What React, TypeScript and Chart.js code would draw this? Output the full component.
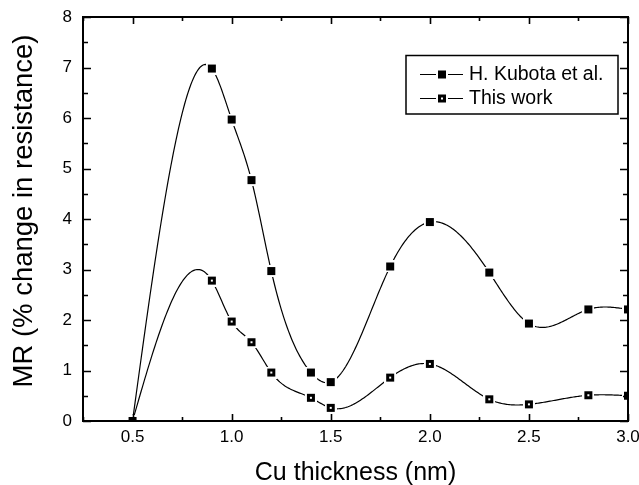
import React, { useEffect, useRef } from "react";
import { Chart, registerables } from "chart.js";

Chart.register(...registerables);

// ---------- data ----------
const thickness = [0.5, 0.9, 1.0, 1.1, 1.2, 1.4, 1.5, 1.8, 2.0, 2.3, 2.5, 2.8, 3.0];
const kubotaMR = [0, 6.98, 5.97, 4.77, 2.97, 0.96, 0.77, 3.06, 3.94, 2.94, 1.93, 2.21, 2.21];
const thisWorkMR = [0, 2.78, 1.97, 1.56, 0.96, 0.46, 0.26, 0.86, 1.13, 0.43, 0.33, 0.51, 0.5];
const seriesLabels = ["H. Kubota et al.", "This work"];
const xTickValues = [0.5, 1.0, 1.5, 2.0, 2.5, 3.0];
const xMinorTicks = [0.25, 0.75, 1.25, 1.75, 2.25, 2.75];
const yTickValues = [0, 1, 2, 3, 4, 5, 6, 7, 8];
const yMinorTicks = [0.5, 1.5, 2.5, 3.5, 4.5, 5.5, 6.5, 7.5];
const xTitle = "Cu thickness (nm)";
const yTitle = "MR (% change in resistance)";

const FONT = "'Liberation Sans', Arial, Helvetica, sans-serif";

// natural cubic spline
function naturalSpline(xs: number[], ys: number[]) {
  const n = xs.length;
  const h: number[] = [];
  for (let i = 0; i < n - 1; i++) h[i] = xs[i + 1] - xs[i];
  const l = new Array(n).fill(0);
  const mu = new Array(n).fill(0);
  const z = new Array(n).fill(0);
  l[0] = 1;
  for (let i = 1; i < n - 1; i++) {
    const alpha = (3 / h[i]) * (ys[i + 1] - ys[i]) - (3 / h[i - 1]) * (ys[i] - ys[i - 1]);
    l[i] = 2 * (xs[i + 1] - xs[i - 1]) - h[i - 1] * mu[i - 1];
    mu[i] = h[i] / l[i];
    z[i] = (alpha - h[i - 1] * z[i - 1]) / l[i];
  }
  l[n - 1] = 1;
  const c = new Array(n).fill(0);
  const b = new Array(n).fill(0);
  const d = new Array(n).fill(0);
  for (let j = n - 2; j >= 0; j--) {
    c[j] = z[j] - mu[j] * c[j + 1];
    b[j] = (ys[j + 1] - ys[j]) / h[j] - (h[j] * (c[j + 1] + 2 * c[j])) / 3;
    d[j] = (c[j + 1] - c[j]) / (3 * h[j]);
  }
  return (x: number) => {
    let j = 0;
    while (j < n - 2 && x > xs[j + 1]) j++;
    const dx = x - xs[j];
    return ys[j] + b[j] * dx + c[j] * dx * dx + d[j] * dx * dx * dx;
  };
}

function makeMarker(dot: boolean) {
  const cv = document.createElement("canvas");
  cv.width = 12;
  cv.height = 12;
  const ctx = cv.getContext("2d")!;
  ctx.fillStyle = "#ffffff";
  ctx.fillRect(0, 0, 12, 12);
  ctx.fillStyle = "#000000";
  ctx.fillRect(2, 2, 8, 8);
  if (dot) {
    ctx.fillStyle = "#ffffff";
    ctx.fillRect(5, 5, 2, 2);
  }
  return cv;
}

function makeFramePlugin(markers: HTMLCanvasElement[]) {
  return {
    id: "originFrame",
    beforeDatasetsDraw(chart: any) {
      const { ctx, chartArea: a } = chart;
      const xs = chart.scales.x;
      const ys = chart.scales.y;
      ctx.save();
      ctx.beginPath();
      ctx.rect(a.left, a.top, a.right - a.left, a.bottom - a.top);
      ctx.clip();
      ctx.strokeStyle = "#000";
      ctx.lineWidth = 1.2;
      chart.data.datasets.forEach((ds: any) => {
        const px = ds.data.map((p: any) => p.x);
        const py = ds.data.map((p: any) => p.y);
        const f = naturalSpline(px, py);
        ctx.beginPath();
        const x0 = px[0];
        const x1 = px[px.length - 1];
        const steps = 400;
        for (let i = 0; i <= steps; i++) {
          const xv = x0 + ((x1 - x0) * i) / steps;
          const X = xs.getPixelForValue(xv);
          const Y = ys.getPixelForValue(f(xv));
          if (i === 0) ctx.moveTo(X, Y);
          else ctx.lineTo(X, Y);
        }
        ctx.stroke();
      });
      ctx.restore();
    },
    afterDraw(chart: any) {
      const { ctx, chartArea: a } = chart;
      const xs = chart.scales.x;
      const ys = chart.scales.y;
      ctx.save();
      ctx.strokeStyle = "#000";
      ctx.lineWidth = 2;
      ctx.strokeRect(a.left, a.top, a.right - a.left, a.bottom - a.top);
      ctx.lineWidth = 1.6;
      const tick = (vals: number[], len: number, horiz: boolean) => {
        vals.forEach((v) => {
          ctx.beginPath();
          if (horiz) {
            const X = Math.round(xs.getPixelForValue(v)) + 0.5;
            ctx.moveTo(X, a.bottom);
            ctx.lineTo(X, a.bottom - len);
            ctx.moveTo(X, a.top);
            ctx.lineTo(X, a.top + len);
          } else {
            const Y = Math.round(ys.getPixelForValue(v)) + 0.5;
            ctx.moveTo(a.left, Y);
            ctx.lineTo(a.left + len, Y);
            ctx.moveTo(a.right, Y);
            ctx.lineTo(a.right - len, Y);
          }
          ctx.stroke();
        });
      };
      tick(xTickValues, 7, true);
      tick(xMinorTicks, 4, true);
      tick(yTickValues, 8, false);
      tick(yMinorTicks, 5, false);

      ctx.fillStyle = "#000";
      ctx.font = `25px ${FONT}`;
      ctx.textAlign = "center";
      ctx.textBaseline = "alphabetic";
      ctx.fillText(xTitle, (a.left + a.right) / 2, 480);
      ctx.save();
      ctx.translate(32, 211);
      ctx.rotate(-Math.PI / 2);
      ctx.font = `27.5px ${FONT}`;
      ctx.fillText(yTitle, 0, 0);
      ctx.restore();

      ctx.lineWidth = 1.5;
      ctx.strokeRect(406, 55.5, 212, 58.5);
      const rows = [74, 98];
      ctx.font = `19.5px ${FONT}`;
      ctx.textAlign = "left";
      ctx.textBaseline = "middle";
      seriesLabels.forEach((lab, i) => {
        const y = rows[i];
        ctx.lineWidth = 1.1;
        ctx.beginPath();
        ctx.moveTo(420, y + 0.5);
        ctx.lineTo(463, y + 0.5);
        ctx.stroke();
        ctx.drawImage(markers[i], 442 - 6, y - 6 + 0.5);
        ctx.fillText(lab, 469, y + 1);
      });
      ctx.restore();
    },
  };
}

export default function App() {
  const ref = useRef<HTMLCanvasElement | null>(null);
  useEffect(() => {
    if (!ref.current) return;
    const m1 = makeMarker(false);
    const m2 = makeMarker(true);
    const chart: any = new Chart(ref.current, {
      type: "scatter",
      data: {
        datasets: [
          {
            label: seriesLabels[0],
            data: thickness.map((x, i) => ({ x, y: kubotaMR[i] })),
            showLine: false,
            pointStyle: m1 as any,
            pointRadius: 5,
            clip: 0,
            borderColor: "#000",
            backgroundColor: "#000",
          },
          {
            label: seriesLabels[1],
            data: thickness.map((x, i) => ({ x, y: thisWorkMR[i] })),
            showLine: false,
            pointStyle: m2 as any,
            pointRadius: 5,
            clip: 0,
            borderColor: "#000",
            backgroundColor: "#000",
          },
        ],
      },
      options: {
        animation: false,
        responsive: true,
        maintainAspectRatio: false,
        layout: { padding: { top: 17, right: 11, left: 0, bottom: 0 } },
        plugins: {
          legend: { display: false },
          tooltip: { enabled: false },
          title: { display: false },
        },
        events: [],
        scales: {
          x: {
            type: "linear",
            min: 0.25,
            max: 3.0,
            grid: { display: false, drawTicks: false },
            border: { display: false },
            afterBuildTicks: (s: any) => {
              s.ticks = xTickValues.map((v) => ({ value: v }));
            },
            afterFit: (s: any) => {
              s.height = 64;
              s.paddingLeft = 0;
              s.paddingRight = 0;
            },
            ticks: {
              autoSkip: false,
              maxRotation: 0,
              padding: 6,
              color: "#000",
              font: { family: FONT, size: 17 },
              callback: (v: any) => Number(v).toFixed(1),
            },
          },
          y: {
            type: "linear",
            min: 0,
            max: 8,
            grid: { display: false, drawTicks: false },
            border: { display: false },
            afterBuildTicks: (s: any) => {
              s.ticks = yTickValues.map((v) => ({ value: v }));
            },
            afterFit: (s: any) => {
              s.width = 83;
              s.paddingTop = 0;
              s.paddingBottom = 0;
            },
            ticks: {
              padding: 11,
              color: "#000",
              font: { family: FONT, size: 17 },
              callback: (v: any) => String(v),
            },
          },
        },
      },
      plugins: [makeFramePlugin([m1, m2])],
    });
    return () => chart.destroy();
  }, []);
  return (
    <div style={{ position: "absolute", left: 0, top: 0, width: 639, height: 485, background: "#fff" }}>
      <canvas ref={ref} />
    </div>
  );
}
